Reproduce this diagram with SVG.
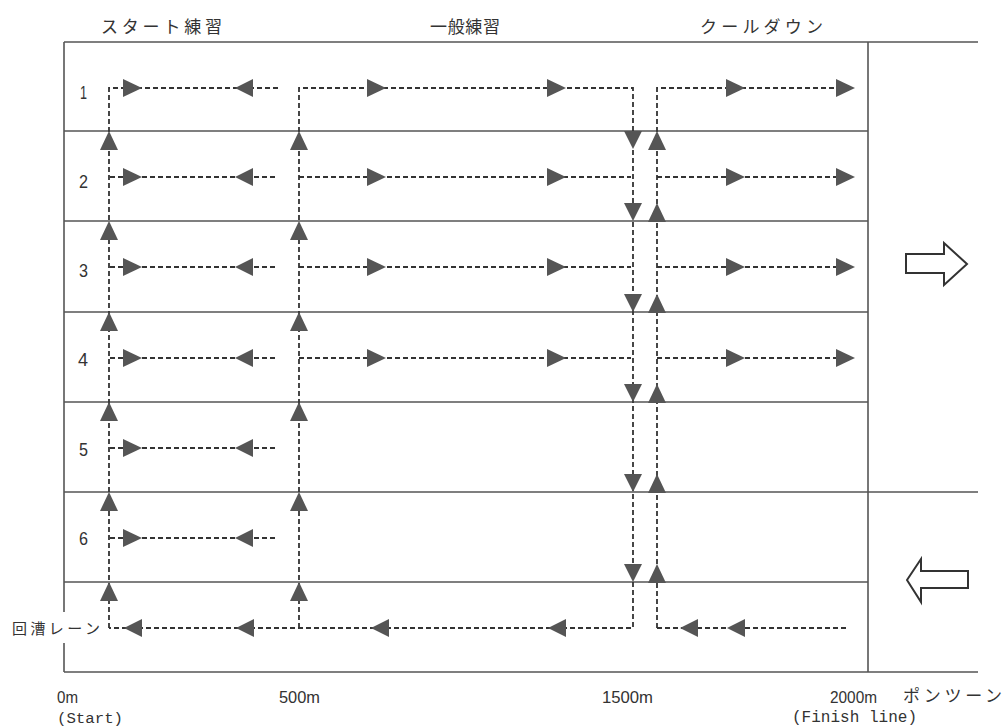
<svg xmlns="http://www.w3.org/2000/svg" xmlns:xlink="http://www.w3.org/1999/xlink" width="1007" height="728" viewBox="0 0 1007 728">
<style>
.frame{stroke:#555;stroke-width:1.6;fill:none}
.route{stroke:#333;stroke-width:1.8;fill:none;stroke-dasharray:5 3}
.tri{fill:#555;stroke:none}
.big{fill:#fff;stroke:#333;stroke-width:2;stroke-linejoin:miter}
.jp{font-family:"Noto Sans CJK JP","Noto Sans CJK SC",sans-serif;fill:#333}
.num{font-family:"Liberation Sans","DejaVu Sans",sans-serif;fill:#333}
.mono{font-family:"Liberation Mono","DejaVu Sans Mono",monospace;fill:#333}
</style>
<defs>
<polygon id="tr" class="tri" points="0,-9 19,0 0,9"/>
<polygon id="tl" class="tri" points="0,0 18,-9 18,9"/>
<polygon id="tu" class="tri" points="0,0 -9,19 9,19"/>
<polygon id="td" class="tri" points="0,0 -9,-18 9,-18"/>
</defs>
<rect width="1007" height="728" fill="#fff"/>

<g id="frame">
<line class="frame" x1="64" y1="42" x2="978" y2="42"/>
<line class="frame" x1="64" y1="672" x2="978" y2="672"/>
<line class="frame" x1="64" y1="42" x2="64" y2="612"/>
<line class="frame" x1="64" y1="643" x2="64" y2="672"/>
<line class="frame" x1="868" y1="42" x2="868" y2="672"/>
<line class="frame" x1="64" y1="131" x2="868" y2="131"/>
<line class="frame" x1="64" y1="221" x2="868" y2="221"/>
<line class="frame" x1="64" y1="312" x2="868" y2="312"/>
<line class="frame" x1="64" y1="402" x2="868" y2="402"/>
<line class="frame" x1="64" y1="492" x2="978" y2="492"/>
<line class="frame" x1="64" y1="582" x2="868" y2="582"/>
</g>

<g id="headers">
<text class="jp" x="101" y="33" font-size="17" textLength="121" lengthAdjust="spacing">スタート練習</text>
<text class="jp" x="430" y="33" font-size="17" textLength="70" lengthAdjust="spacing">一般練習</text>
<text class="jp" x="700" y="33" font-size="17" textLength="123" lengthAdjust="spacing">クールダウン</text>
</g>

<g id="lane-labels">
<text class="num" x="80" y="99" font-size="19" textLength="7" lengthAdjust="spacingAndGlyphs">1</text>
<text class="num" x="79" y="188" font-size="19" textLength="9" lengthAdjust="spacingAndGlyphs">2</text>
<text class="num" x="79" y="277" font-size="19" textLength="9" lengthAdjust="spacingAndGlyphs">3</text>
<text class="num" x="78" y="366" font-size="19" textLength="10" lengthAdjust="spacingAndGlyphs">4</text>
<text class="num" x="79" y="456" font-size="19" textLength="9" lengthAdjust="spacingAndGlyphs">5</text>
<text class="num" x="79" y="545" font-size="19" textLength="9" lengthAdjust="spacingAndGlyphs">6</text>
<text class="jp" x="12" y="634" font-size="15" textLength="88" lengthAdjust="spacing">回漕レーン</text>
</g>

<g id="connectors">
<!-- start practice loop -->
<path class="route" d="M109,628 V88 H278"/>
<path class="route" d="M299,628 V88 H633 V628 H109"/>
<path class="route" d="M657,628 V88 H840"/>
<path class="route" d="M657,628 H848"/>
<!-- lanes 2-6 start section -->
<path class="route" d="M110,177 H276 M110,267 H276 M110,358 H276 M110,448 H276 M110,538 H276"/>
<!-- lanes 2-4 general practice -->
<path class="route" d="M299,177 H631 M299,267 H631 M299,358 H631"/>
<!-- lanes 2-4 cool down -->
<path class="route" d="M657,177 H840 M657,267 H840 M657,358 H840"/>
</g>

<g id="arrowheads">
<!-- start section -->
<use xlink:href="#tr" x="123" y="88"/><use xlink:href="#tl" x="235" y="88"/>
<use xlink:href="#tr" x="123" y="177"/><use xlink:href="#tl" x="235" y="177"/>
<use xlink:href="#tr" x="123" y="267"/><use xlink:href="#tl" x="235" y="267"/>
<use xlink:href="#tr" x="123" y="358"/><use xlink:href="#tl" x="235" y="358"/>
<use xlink:href="#tr" x="123" y="448"/><use xlink:href="#tl" x="235" y="448"/>
<use xlink:href="#tr" x="123" y="538"/><use xlink:href="#tl" x="235" y="538"/>
<!-- general -->
<use xlink:href="#tr" x="367" y="88"/><use xlink:href="#tr" x="547" y="88"/>
<use xlink:href="#tr" x="367" y="177"/><use xlink:href="#tr" x="547" y="177"/>
<use xlink:href="#tr" x="367" y="267"/><use xlink:href="#tr" x="547" y="267"/>
<use xlink:href="#tr" x="367" y="358"/><use xlink:href="#tr" x="547" y="358"/>
<!-- cool down -->
<use xlink:href="#tr" x="726" y="88"/><use xlink:href="#tr" x="836" y="88"/>
<use xlink:href="#tr" x="726" y="177"/><use xlink:href="#tr" x="836" y="177"/>
<use xlink:href="#tr" x="726" y="267"/><use xlink:href="#tr" x="836" y="267"/>
<use xlink:href="#tr" x="726" y="358"/><use xlink:href="#tr" x="836" y="358"/>
<!-- return lane -->
<use xlink:href="#tl" x="124" y="628"/><use xlink:href="#tl" x="236" y="628"/>
<use xlink:href="#tl" x="371" y="628"/><use xlink:href="#tl" x="548" y="628"/>
<use xlink:href="#tl" x="680" y="628"/><use xlink:href="#tl" x="727" y="628"/>
<!-- verticals up x=109 and x=299 -->
<use xlink:href="#tu" x="109" y="131"/><use xlink:href="#tu" x="109" y="221"/>
<use xlink:href="#tu" x="109" y="312"/><use xlink:href="#tu" x="109" y="402"/>
<use xlink:href="#tu" x="109" y="492"/><use xlink:href="#tu" x="109" y="582"/>
<use xlink:href="#tu" x="299" y="131"/><use xlink:href="#tu" x="299" y="221"/>
<use xlink:href="#tu" x="299" y="312"/><use xlink:href="#tu" x="299" y="402"/>
<use xlink:href="#tu" x="299" y="492"/><use xlink:href="#tu" x="299" y="582"/>
<!-- down x=633 -->
<use xlink:href="#td" x="633" y="149"/><use xlink:href="#td" x="633" y="221"/>
<use xlink:href="#td" x="633" y="312"/><use xlink:href="#td" x="633" y="402"/>
<use xlink:href="#td" x="633" y="492"/><use xlink:href="#td" x="633" y="582"/>
<!-- up x=657 -->
<use xlink:href="#tu" x="657" y="131"/><use xlink:href="#tu" x="657" y="203"/>
<use xlink:href="#tu" x="657" y="294"/><use xlink:href="#tu" x="657" y="384"/>
<use xlink:href="#tu" x="657" y="474"/><use xlink:href="#tu" x="657" y="564"/>
</g>

<g id="direction-arrows">
<polygon class="big" points="906,254 944,254 944,243 967,264 944,285 944,273 906,273"/>
<polygon class="big" points="907,580 921,559 921,571 968,571 968,588 921,588 921,602"/>
</g>

<g id="distance-labels">
<text class="num" x="57" y="703" font-size="17" textLength="21" lengthAdjust="spacingAndGlyphs">0m</text>
<text class="mono" x="57" y="723" font-size="15.5" textLength="66" lengthAdjust="spacingAndGlyphs">(Start)</text>
<text class="num" x="279" y="703" font-size="17" textLength="41" lengthAdjust="spacingAndGlyphs">500m</text>
<text class="num" x="602" y="703" font-size="17" textLength="51" lengthAdjust="spacingAndGlyphs">1500m</text>
<text class="num" x="830" y="703" font-size="17" textLength="47" lengthAdjust="spacingAndGlyphs">2000m</text>
<text class="jp" x="903" y="702" font-size="17" textLength="99" lengthAdjust="spacing">ポンツーン</text>
<text class="mono" x="792" y="722" font-size="16" textLength="125" lengthAdjust="spacingAndGlyphs">(Finish line)</text>
</g>
</svg>
